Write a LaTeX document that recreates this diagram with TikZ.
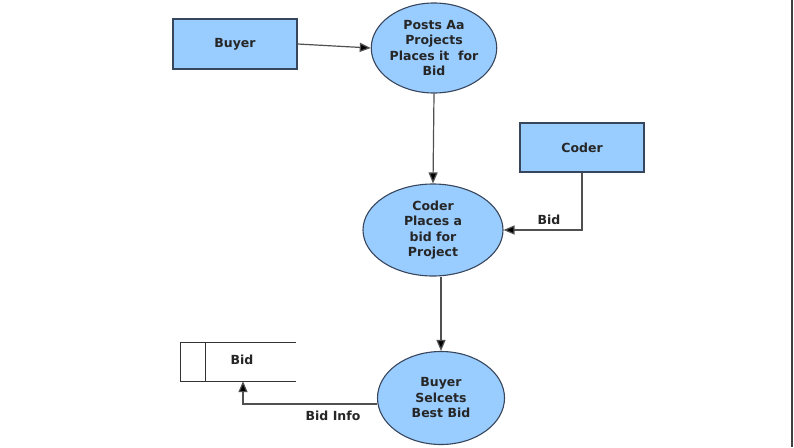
\documentclass[tikz,border=0pt]{standalone}
\usepackage{fontspec}
\setmainfont{DejaVu Sans}
\usetikzlibrary{shapes.geometric,arrows.meta}
\definecolor{fillblue}{RGB}{153,204,255}
\definecolor{edgeblue}{RGB}{55,70,92}
\definecolor{linegray}{RGB}{80,80,80}
\tikzset{
  lbl/.style={font=\fontsize{12.5}{15.5}\selectfont\bfseries, align=center, text=black!85},
  entity/.style={rectangle, draw=edgeblue, fill=fillblue, line width=1.1pt, lbl},
  proc/.style={ellipse, draw=edgeblue, fill=fillblue, line width=1.1pt, lbl, inner sep=0pt},
  arr/.style={draw=linegray, line width=1.2pt, -{Triangle[length=11pt,width=9pt,fill=black]}},
}
\begin{document}
\begin{tikzpicture}[x=1pt,y=-1pt]
\useasboundingbox (0,0) rectangle (794,447);
\fill[white] (0,0) rectangle (794,447);
\draw[line width=2pt, draw=black!75] (792,0) -- (792,447);

\node[entity, minimum width=124pt, minimum height=50pt] (buyer) at (235,44) {Buyer};
\node[proc, minimum width=124pt, minimum height=90pt] (p1) at (434,48) {Posts Aa\\Projects\\Places it~ for\\Bid};
\node[entity, minimum width=124pt, minimum height=49pt] (coder) at (582,147.5) {Coder};
\node[proc, minimum width=140pt, minimum height=92pt] (p2) at (433,230) {Coder\\Places a\\bid for\\Project};
\node[proc, minimum width=127pt, minimum height=93pt] (p3) at (441,398) {Buyer\\Selcets\\Best Bid};

% data store
\node[minimum width=115pt, minimum height=38pt, inner sep=0pt] (store) at (238.5,362) {};
\node[lbl] (storelbl) at (242,360) {Bid};
\draw[line width=1pt, draw=black!80] (store.north east) -- (store.north west) -- (store.south west) -- (store.south east);
\draw[line width=1pt, draw=black!80] ([xshift=25pt]store.north west) -- ([xshift=25pt]store.south west);

% connectors
\draw[arr] (buyer.east) -- (p1.west);
\draw[arr] (p1.south) -- (p2.north);
\draw[arr] (coder.south) |- (p2.east);
\draw[arr] (p3.north |- p2.south) -- (p3.north);
\draw[arr] ([yshift=-6pt]p3.west) -| ([xshift=4.5pt]store.south);

\node[lbl] (bidlbl) at (549,220) {Bid};
\node[lbl] (bidinfo) at (333,416) {Bid Info};
\end{tikzpicture}
\end{document}
